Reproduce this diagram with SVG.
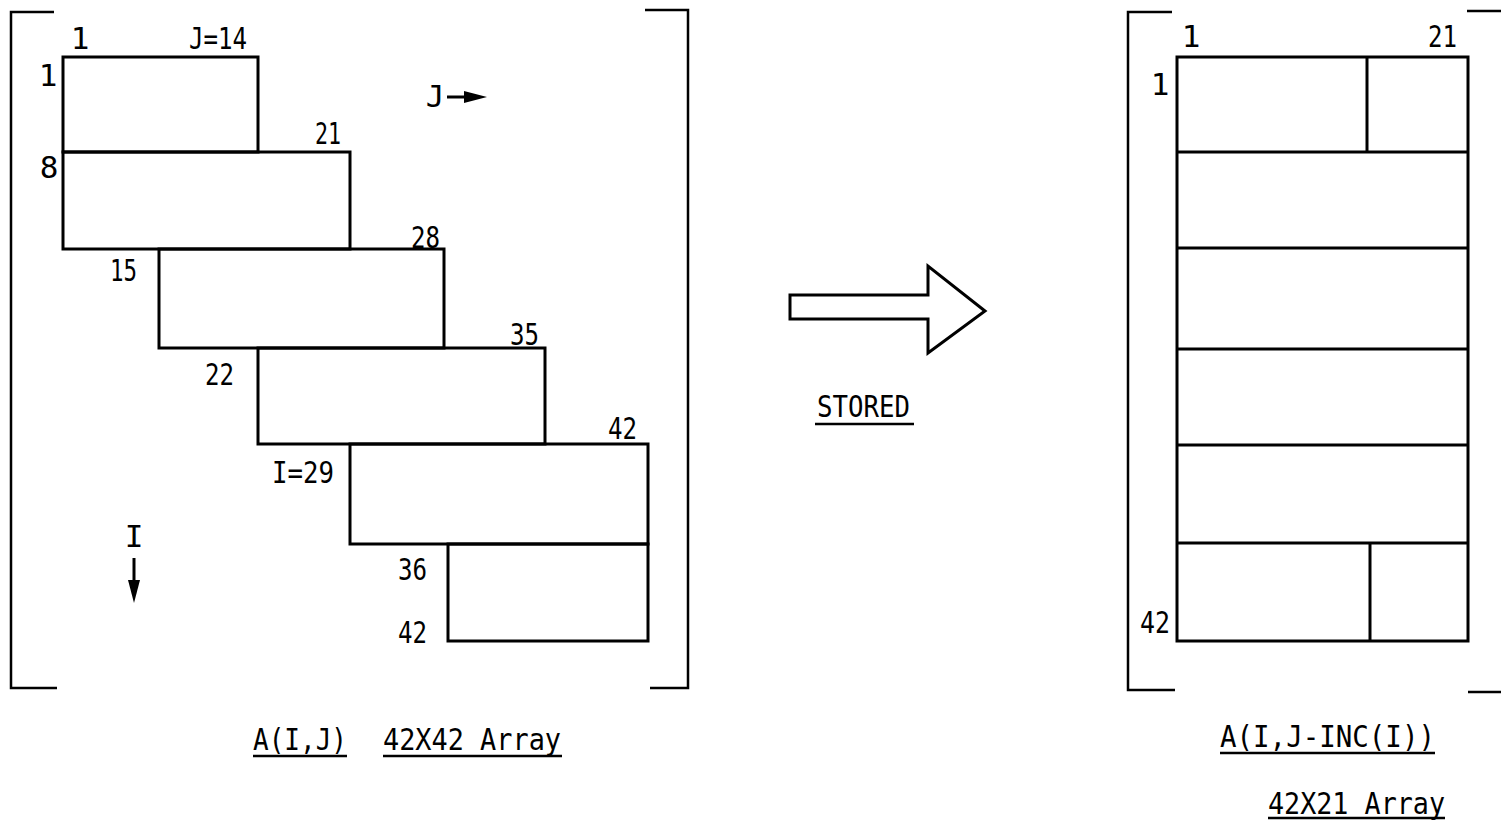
<svg xmlns="http://www.w3.org/2000/svg" width="1501" height="820" viewBox="0 0 1501 820">
<defs>
<style>
.ln{fill:none;stroke:#000;stroke-width:3;stroke-linecap:square;stroke-linejoin:miter}
.br{fill:none;stroke:#000;stroke-width:2.5}
.bx{fill:none;stroke:#000;stroke-width:3}
.t{font-family:"DejaVu Sans Mono","Liberation Mono",monospace;font-size:31px;fill:#000}
.c{text-anchor:middle}
.ul{stroke:#000;stroke-width:2.5}
.ar{stroke:#000;stroke-width:3}
.hd{fill:#000;stroke:none}
</style>
</defs>
<rect width="1501" height="820" fill="#fff"/>

<g id="left-bracket">
<polyline class="br" points="54,12 11,12 11,688 57,688"/>
<polyline class="br" points="645,10 688,10 688,688 650,688"/>
</g>

<g id="left-blocks">
<rect class="bx" x="63" y="57" width="195" height="95"/>
<rect class="bx" x="63" y="152" width="287" height="97"/>
<rect class="bx" x="159" y="249" width="285" height="99"/>
<rect class="bx" x="258" y="348" width="287" height="96"/>
<rect class="bx" x="350" y="444" width="298" height="100"/>
<rect class="bx" x="448" y="544" width="200" height="97"/>
</g>

<g id="left-labels">
<text class="t c" x="80" y="49">1</text>
<text class="t" x="189" y="49" textLength="58" lengthAdjust="spacingAndGlyphs">J=14</text>
<text class="t c" x="48" y="86">1</text>
<text class="t c" x="49" y="178">8</text>
<text class="t" x="315" y="144" textLength="26" lengthAdjust="spacingAndGlyphs">21</text>
<text class="t" x="411" y="248" textLength="29" lengthAdjust="spacingAndGlyphs">28</text>
<text class="t" x="110" y="281" textLength="27" lengthAdjust="spacingAndGlyphs">15</text>
<text class="t" x="510" y="345" textLength="29" lengthAdjust="spacingAndGlyphs">35</text>
<text class="t" x="205" y="385" textLength="29" lengthAdjust="spacingAndGlyphs">22</text>
<text class="t" x="608" y="439" textLength="29" lengthAdjust="spacingAndGlyphs">42</text>
<text class="t" x="272" y="483" textLength="62" lengthAdjust="spacingAndGlyphs">I=29</text>
<text class="t" x="398" y="580" textLength="29" lengthAdjust="spacingAndGlyphs">36</text>
<text class="t" x="398" y="643" textLength="29" lengthAdjust="spacingAndGlyphs">42</text>
</g>

<g id="axis-j">
<text class="t c" x="435" y="107">J</text>
<line class="ar" x1="447" y1="97" x2="468" y2="97"/>
<polygon class="hd" points="464,91 487,97 464,103"/>
</g>

<g id="axis-i">
<text class="t c" x="134" y="547">I</text>
<line class="ar" x1="134" y1="558" x2="134" y2="585"/>
<polygon class="hd" points="128,580 134,603 140,580"/>
</g>

<g id="left-caption">
<text class="t" x="253" y="750" textLength="94" lengthAdjust="spacingAndGlyphs">A(I,J)</text>
<line class="ul" x1="253" y1="756" x2="347" y2="756"/>
<text class="t" x="383" y="750" textLength="178" lengthAdjust="spacingAndGlyphs">42X42 Array</text>
<line class="ul" x1="383" y1="756" x2="562" y2="756"/>
</g>

<g id="connectors">
<polygon class="bx" fill="#fff" points="790,295 928,295 928,266 985,311 928,353 928,319 790,319"/>
</g>

<g id="stored-label">
<text class="t" x="817" y="417" textLength="93" lengthAdjust="spacingAndGlyphs">STORED</text>
<line class="ul" x1="815" y1="424" x2="914" y2="424"/>
</g>

<g id="right-bracket">
<polyline class="br" points="1172,12 1128,12 1128,690 1175,690"/>
<polyline class="br" points="1467,11 1501,11"/>
<polyline class="br" points="1468,692 1501,692"/>
</g>

<g id="right-array">
<rect class="bx" x="1177" y="57" width="291" height="584"/>
<line class="bx" x1="1177" y1="152" x2="1468" y2="152"/>
<line class="bx" x1="1177" y1="248" x2="1468" y2="248"/>
<line class="bx" x1="1177" y1="349" x2="1468" y2="349"/>
<line class="bx" x1="1177" y1="445" x2="1468" y2="445"/>
<line class="bx" x1="1177" y1="543" x2="1468" y2="543"/>
<line class="bx" x1="1367" y1="57" x2="1367" y2="152"/>
<line class="bx" x1="1370" y1="543" x2="1370" y2="641"/>
</g>

<g id="right-labels">
<text class="t c" x="1191" y="47">1</text>
<text class="t" x="1428" y="47" textLength="29" lengthAdjust="spacingAndGlyphs">21</text>
<text class="t c" x="1160" y="95">1</text>
<text class="t" x="1140" y="633" textLength="30" lengthAdjust="spacingAndGlyphs">42</text>
</g>

<g id="right-caption">
<text class="t" x="1220" y="747" textLength="215" lengthAdjust="spacingAndGlyphs">A(I,J-INC(I))</text>
<line class="ul" x1="1220" y1="753" x2="1435" y2="753"/>
<text class="t" x="1268" y="814" textLength="177" lengthAdjust="spacingAndGlyphs">42X21 Array</text>
<line class="ul" x1="1268" y1="818" x2="1445" y2="818"/>
</g>
</svg>
